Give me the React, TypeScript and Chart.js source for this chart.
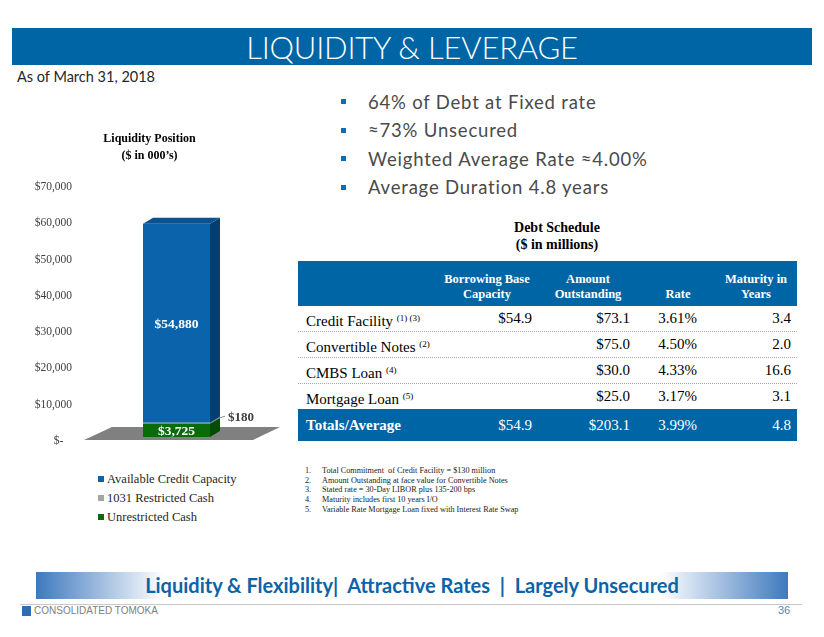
import React, { useEffect, useRef } from 'react';
import { Chart, registerables } from 'chart.js';

Chart.register(...registerables);

// ---------- data ----------
const categories = ['Liquidity Position'];
const unrestrictedCash = [3725];
const restrictedCash1031 = [180];
const availableCredit = [54880];
const yMin = 0;
const yMax = 70000;
const yStep = 10000;
const legendLabels = ['Available Credit Capacity', '1031 Restricted Cash', 'Unrestricted Cash'];

const bullets = [
  '64% of Debt at Fixed rate',
  '\u224873% Unsecured',
  'Weighted Average Rate \u22484.00%',
  'Average Duration 4.8 years',
];

const debtHeaders = [
  ['Borrowing Base', 'Capacity'],
  ['Amount', 'Outstanding'],
  ['', 'Rate'],
  ['Maturity in', 'Years'],
];
const debtNames = ['Credit Facility', 'Convertible Notes', 'CMBS Loan', 'Mortgage Loan'];
const debtNotes = ['(1) (3)', '(2)', '(4)', '(5)'];
const borrowingBase = ['$54.9', '', '', ''];
const amountOutstanding = ['$73.1', '$75.0', '$30.0', '$25.0'];
const rates = ['3.61%', '4.50%', '4.33%', '3.17%'];
const maturityYears = ['3.4', '2.0', '16.6', '3.1'];
const totalsRow = ['Totals/Average', '$54.9', '$203.1', '3.99%', '4.8'];

const footnotes = [
  'Total Commitment  of Credit Facility = $130 million',
  'Amount Outstanding at face value for Convertible Notes',
  'Stated rate = 30-Day LIBOR plus 135-200 bps',
  'Maturity includes first 10 years I/O',
  'Variable Rate Mortgage Loan fixed with Interest Rate Swap',
];

// ---------- styles ----------
const BLUE = '#0B63AB';
const GREEN = '#0A6B0A';
const GRAY = '#A5A5A5';
const SERIF = '"Liberation Serif", "Times New Roman", serif';
const SANS = 'Lato, "Open Sans", sans-serif';
const DX = 10;
const DY = -6;

const fmt = (v: number) => '$' + v.toLocaleString('en-US');

const threeDPlugin = {
  id: 'threeD',
  beforeDatasetsDraw(chart: any) {
    const { ctx, chartArea, scales } = chart;
    const y0 = scales.y.getPixelForValue(0);
    ctx.save();
    ctx.fillStyle = '#808080';
    ctx.beginPath();
    ctx.moveTo(chartArea.left + 4, y0 + 3);
    ctx.lineTo(chartArea.right - 20, y0 + 3);
    ctx.lineTo(chartArea.right + 7, y0 - 10);
    ctx.lineTo(chartArea.left + 32, y0 - 10);
    ctx.closePath();
    ctx.fill();
    ctx.restore();
  },
  afterDatasetsDraw(chart: any) {
    const { ctx } = chart;
    const n = chart.data.datasets.length;
    ctx.save();
    chart.data.datasets.forEach((ds: any, di: number) => {
      const meta = chart.getDatasetMeta(di);
      meta.data.forEach((el: any, i: number) => {
        const { x, y, base, width } = el.getProps(['x', 'y', 'base', 'width'], true);
        const l = x - width / 2;
        const r = x + width / 2;
        ctx.fillStyle = ds.sideColor;
        ctx.beginPath();
        ctx.moveTo(r, y);
        ctx.lineTo(r + DX, y + DY);
        ctx.lineTo(r + DX, base + DY);
        ctx.lineTo(r, base);
        ctx.closePath();
        ctx.fill();
        if (di === n - 1) {
          ctx.fillStyle = ds.topColor;
          ctx.beginPath();
          ctx.moveTo(l, y);
          ctx.lineTo(l + DX, y + DY);
          ctx.lineTo(r + DX, y + DY);
          ctx.lineTo(r, y);
          ctx.closePath();
          ctx.fill();
        }
        const v = ds.data[i];
        if (ds.labelMode === 'inside') {
          ctx.fillStyle = '#FFFFFF';
          ctx.font = `bold 13.5px ${SERIF}`;
          ctx.textAlign = 'center';
          ctx.textBaseline = 'middle';
          ctx.fillText(fmt(v), x, (y + base) / 2 + 1);
        } else if (ds.labelMode === 'outside') {
          const my = (y + base) / 2;
          ctx.strokeStyle = '#8C8C8C';
          ctx.lineWidth = 1;
          ctx.beginPath();
          ctx.moveTo(r + 2, my - 1);
          ctx.lineTo(r + 9, my - 5);
          ctx.lineTo(r + 15, my - 7);
          ctx.stroke();
          ctx.fillStyle = '#404040';
          ctx.font = `bold 13px ${SERIF}`;
          ctx.textAlign = 'left';
          ctx.textBaseline = 'middle';
          ctx.fillText(fmt(v), r + 18, my - 6);
        }
      });
    });
    ctx.restore();
  },
};

function LiquidityChart() {
  const ref = useRef<HTMLCanvasElement | null>(null);
  useEffect(() => {
    if (!ref.current) return;
    const chart = new Chart(ref.current, {
      type: 'bar',
      data: {
        labels: categories,
        datasets: [
          { label: 'Unrestricted Cash', data: unrestrictedCash, backgroundColor: GREEN, sideColor: '#054A05', labelMode: 'inside' } as any,
          { label: '1031 Restricted Cash', data: restrictedCash1031, backgroundColor: GRAY, sideColor: '#6E6E6E', labelMode: 'outside' } as any,
          { label: 'Available Credit Capacity', data: availableCredit, backgroundColor: BLUE, sideColor: '#063F6F', topColor: '#0A5290', labelMode: 'inside' } as any,
        ],
      },
      options: {
        responsive: false,
        animation: false,
        layout: { padding: { left: 0, right: 17, top: 0, bottom: 23 } },
        datasets: { bar: { barPercentage: 1, categoryPercentage: 0.347 } },
        plugins: {
          legend: { display: false },
          tooltip: { enabled: false },
          title: {
            display: true,
            text: ['Liquidity Position', '($ in 000\u2019s)'],
            color: '#000000',
            font: { family: SERIF, size: 12, weight: 'bold', lineHeight: 1.4 },
            padding: { top: 11, bottom: 18.4 },
          },
        },
        scales: {
          x: { stacked: true, display: false },
          y: {
            stacked: true,
            min: yMin,
            max: yMax,
            afterFit: (s: any) => { s.width = 54; },
            grid: { display: false, drawTicks: false },
            border: { display: false },
            ticks: {
              stepSize: yStep,
              padding: 8,
              labelOffset: 4,
              color: '#404040',
              font: { family: SERIF, size: 11.5 },
              callback: (v: any) => (Number(v) === 0 ? '$-   ' : fmt(Number(v))),
            },
          },
        },
      },
      plugins: [threeDPlugin],
    } as any);
    return () => chart.destroy();
  }, []);
  return (
    <canvas
      ref={ref}
      width={264}
      height={340}
      style={{ position: 'absolute', left: 26, top: 120, width: 264, height: 340 }}
    />
  );
}

const legendColors = [BLUE, GRAY, GREEN];
const colRight = [532, 630, 697, 791];
const headerCenter = [487, 588, 678, 756];
const ROW_Y = [318, 344, 370, 396];

export default function App() {
  const abs = (s: any) => ({ position: 'absolute', ...s });
  return (
    <div style={{ position: 'absolute', left: 0, top: 0, width: 824, height: 637, background: '#fff', overflow: 'hidden', fontFamily: SANS }}>
      {/* title bar */}
      <div style={abs({ left: 12, top: 28, width: 800, height: 37, background: '#0065A4', color: '#fff', textAlign: 'center', fontFamily: SANS, fontWeight: 300, fontSize: 31, lineHeight: '38px', letterSpacing: -0.2 })}>
        LIQUIDITY &amp; LEVERAGE
      </div>
      <div style={abs({ left: 17, top: 68, fontFamily: SANS, fontSize: 14.5, lineHeight: '18px', color: '#262626', whiteSpace: 'nowrap' })}>
        As of March 31, 2018
      </div>

      {/* bullets */}
      {bullets.map((b, i) => (
        <div key={b} style={abs({ left: 341, top: 101.5 + i * 28.6 - 12, height: 24, whiteSpace: 'nowrap' })}>
          <div style={abs({ left: 0, top: 9.5, width: 5, height: 5, background: '#0E6DB5' })} />
          <div style={abs({ left: 27, top: 0, fontFamily: SANS, fontSize: 18.5, lineHeight: '24px', color: '#4A4A4A', letterSpacing: 0.8 })}>{b}</div>
        </div>
      ))}

      <LiquidityChart />

      {/* legend */}
      {legendLabels.map((t, i) => (
        <div key={t} style={abs({ left: 98, top: 479 + i * 19 - 9, height: 18, whiteSpace: 'nowrap' })}>
          <div style={abs({ left: 0, top: 6, width: 6, height: 6, background: legendColors[i] })} />
          <div style={abs({ left: 9, top: 0, fontFamily: SERIF, fontSize: 12.5, lineHeight: '18px', color: '#262626' })}>{t}</div>
        </div>
      ))}

      {/* debt schedule */}
      <div style={abs({ left: 457, top: 219, width: 200, textAlign: 'center', fontFamily: SERIF, fontWeight: 'bold', fontSize: 14, lineHeight: '17px', color: '#000' })}>
        Debt Schedule<br />($ in millions)
      </div>
      <div style={abs({ left: 298, top: 261, width: 499, height: 45, background: '#0065A4' })} />
      {debtHeaders.map((h, i) => (
        <div key={i} style={abs({ left: headerCenter[i] - 60, top: 272, width: 120, textAlign: 'center', fontFamily: SERIF, fontWeight: 'bold', fontSize: 12.5, lineHeight: '15px', color: '#fff' })}>
          {h[0] || '\u00a0'}<br />{h[1]}
        </div>
      ))}
      {debtNames.map((name, r) => (
        <React.Fragment key={name}>
          <div style={abs({ left: 306, top: ROW_Y[r] - 10, fontFamily: SERIF, fontSize: 15, lineHeight: '20px', color: '#000', whiteSpace: 'nowrap' })}>
            {name} <sup style={{ fontSize: 9, verticalAlign: 5 }}>{debtNotes[r]}</sup>
          </div>
          {[borrowingBase[r], amountOutstanding[r], rates[r], maturityYears[r]].map((v, c) => (
            <div key={c} style={abs({ left: colRight[c] - 80, top: ROW_Y[r] - 10, width: 80, textAlign: 'right', fontFamily: SERIF, fontSize: 15, lineHeight: '20px', color: '#000' })}>{v}</div>
          ))}
          {r < debtNames.length - 1 && (
            <div style={abs({ left: 298, top: ROW_Y[r] + 12.5, width: 499, height: 0, borderTop: '1px dotted #A6A6A6' })} />
          )}
        </React.Fragment>
      ))}
      <div style={abs({ left: 298, top: 409, width: 499, height: 32, background: '#0065A4' })} />
      <div style={abs({ left: 306, top: 415, fontFamily: SERIF, fontWeight: 'bold', fontSize: 15, lineHeight: '20px', color: '#fff', whiteSpace: 'nowrap' })}>{totalsRow[0]}</div>
      {totalsRow.slice(1).map((v, c) => (
        <div key={c} style={abs({ left: colRight[c] - 80, top: 415, width: 80, textAlign: 'right', fontFamily: SERIF, fontSize: 15, lineHeight: '20px', color: '#fff' })}>{v}</div>
      ))}

      {/* footnotes */}
      {footnotes.map((f, i) => (
        <div key={i} style={abs({ left: 305, top: 471 + i * 9.7 - 5, fontFamily: SERIF, fontSize: 8.2, lineHeight: '10px', color: '#222', whiteSpace: 'pre' })}>
          {i + 1}.<span style={abs({ left: 17, top: 0 })}>{f}</span>
        </div>
      ))}

      {/* footer */}
      <div style={abs({ left: 36, top: 572, width: 752, height: 27, background: 'linear-gradient(to right, #3E79BE 0%, #FFFFFF 17%, #FFFFFF 83%, #3E79BE 100%)' })} />
      <div style={abs({ left: 36, top: 572, width: 752, height: 27, textAlign: 'center', fontFamily: SANS, fontWeight: 'bold', fontSize: 20, lineHeight: '27px', color: '#0B63A8', whiteSpace: 'pre' })}>
        Liquidity &amp; Flexibility|  Attractive Rates  |  Largely Unsecured
      </div>
      <div style={abs({ left: 20, top: 604, width: 782, height: 0, borderTop: '1px solid #C8C8C8' })} />
      <div style={abs({ left: 22, top: 606, width: 9, height: 10, background: '#2D6DB5' })} />
      <div style={abs({ left: 34, top: 604, fontFamily: '"Liberation Sans", Arial, sans-serif', fontSize: 10, lineHeight: '14px', color: '#808080' })}>CONSOLIDATED TOMOKA</div>
      <div style={abs({ left: 778, top: 603, fontFamily: '"Liberation Sans", Arial, sans-serif', fontSize: 11, lineHeight: '14px', color: '#3C8DD0' })}>36</div>
    </div>
  );
}
